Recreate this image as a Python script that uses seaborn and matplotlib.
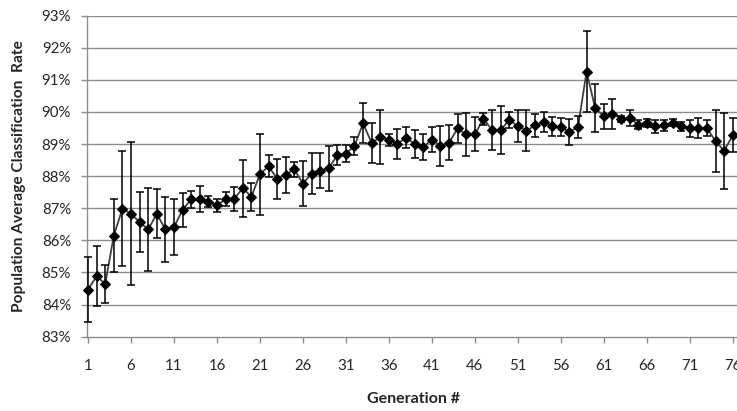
import numpy as np
import pandas as pd
import matplotlib
matplotlib.use("Agg")
import matplotlib.pyplot as plt
import seaborn as sns
from matplotlib.ticker import FuncFormatter

# values (percent)
generation = list(range(1, 77))
mean_rate = [
    84.47, 84.89, 84.64, 86.15, 86.99, 86.83, 86.57, 86.34, 86.83, 86.34,
    86.41, 86.95, 87.28, 87.29, 87.20, 87.10, 87.28, 87.29, 87.63, 87.36,
    88.06, 88.31, 87.92, 88.05, 88.21, 87.77, 88.08, 88.17, 88.24, 88.66,
    88.70, 88.94, 89.65, 89.03, 89.22, 89.13, 89.01, 89.20, 89.00, 88.91,
    89.14, 88.95, 89.04, 89.49, 89.30, 89.30, 89.79, 89.44, 89.44, 89.75,
    89.56, 89.42, 89.58, 89.69, 89.55, 89.53, 89.38, 89.53, 91.26, 90.12,
    89.87, 89.95, 89.79, 89.82, 89.61, 89.66, 89.55, 89.58, 89.67, 89.55,
    89.49, 89.51, 89.50, 89.09, 88.79, 89.27,
]
std_rate = [
    1.00, 0.92, 0.58, 1.15, 1.80, 2.22, 0.94, 1.29, 0.77, 1.02,
    0.88, 0.53, 0.26, 0.39, 0.17, 0.20, 0.22, 0.38, 0.89, 0.44,
    1.27, 0.34, 0.62, 0.56, 0.24, 0.69, 0.65, 0.55, 0.69, 0.30,
    0.27, 0.27, 0.63, 0.62, 0.85, 0.19, 0.46, 0.33, 0.44, 0.42,
    0.38, 0.62, 0.54, 0.46, 0.67, 0.53, 0.19, 0.63, 0.75, 0.24,
    0.50, 0.63, 0.36, 0.31, 0.29, 0.27, 0.41, 0.33, 1.26, 0.74,
    0.39, 0.47, 0.09, 0.25, 0.13, 0.13, 0.20, 0.16, 0.12, 0.14,
    0.26, 0.31, 0.26, 0.96, 1.19, 0.53,
]
y_ticks = list(range(83, 94))
x_ticks = list(range(1, 77, 5))

df = pd.DataFrame({"Generation": generation, "Rate": mean_rate, "Std": std_rate})

sns.set_style("white")
plt.rcParams["font.family"] = ["Lato", "DejaVu Sans"]

fig = plt.figure(figsize=(7.37, 4.11), dpi=100)
ax = fig.add_axes([87 / 737, 0.1808, 1 - 87 / 737, 0.781])

grid_col = "#8c8c8c"
for yv in y_ticks[1:]:
    ax.axhline(yv, color=grid_col, lw=1.0, zorder=0)

sns.lineplot(data=df, x="Generation", y="Rate", ax=ax, color="#404040",
             lw=1.3, marker="D", markersize=5, markerfacecolor="black",
             markeredgecolor="black", zorder=3, clip_on=False)
ax.errorbar(df["Generation"], df["Rate"], yerr=df["Std"], fmt="none",
            ecolor="black", elinewidth=1.1, capsize=3, capthick=1.1,
            zorder=4, clip_on=False)

ax.set_xlim(0.88, 76.5)
ax.set_ylim(83, 93)
ax.set_yticks(y_ticks)
ax.set_xticks(x_ticks)
ax.yaxis.set_major_formatter(FuncFormatter(lambda v, p: f"{v:.0f}%"))

for side in ["top", "right"]:
    ax.spines[side].set_visible(False)
for side in ["left", "bottom"]:
    ax.spines[side].set_color(grid_col)
    ax.spines[side].set_linewidth(1.0)

ax.tick_params(axis="y", length=4, width=1, color=grid_col, pad=7.5,
               labelsize=10.8, labelcolor="#262626", left=True)
ax.tick_params(axis="x", length=4, width=1, color=grid_col, pad=12,
               labelsize=10.8, labelcolor="#262626", bottom=True)

ax.set_xlabel("Generation #", fontsize=11.5, fontweight="bold", color="#262626")
ax.set_ylabel("Population Average Classification  Rate", fontsize=11.2,
              fontweight="bold", color="#262626")
ax.xaxis.set_label_coords(0.503, -0.171)
ax.yaxis.set_label_coords(-0.094, 0.5)

fig.savefig("out.png", dpi=100)
